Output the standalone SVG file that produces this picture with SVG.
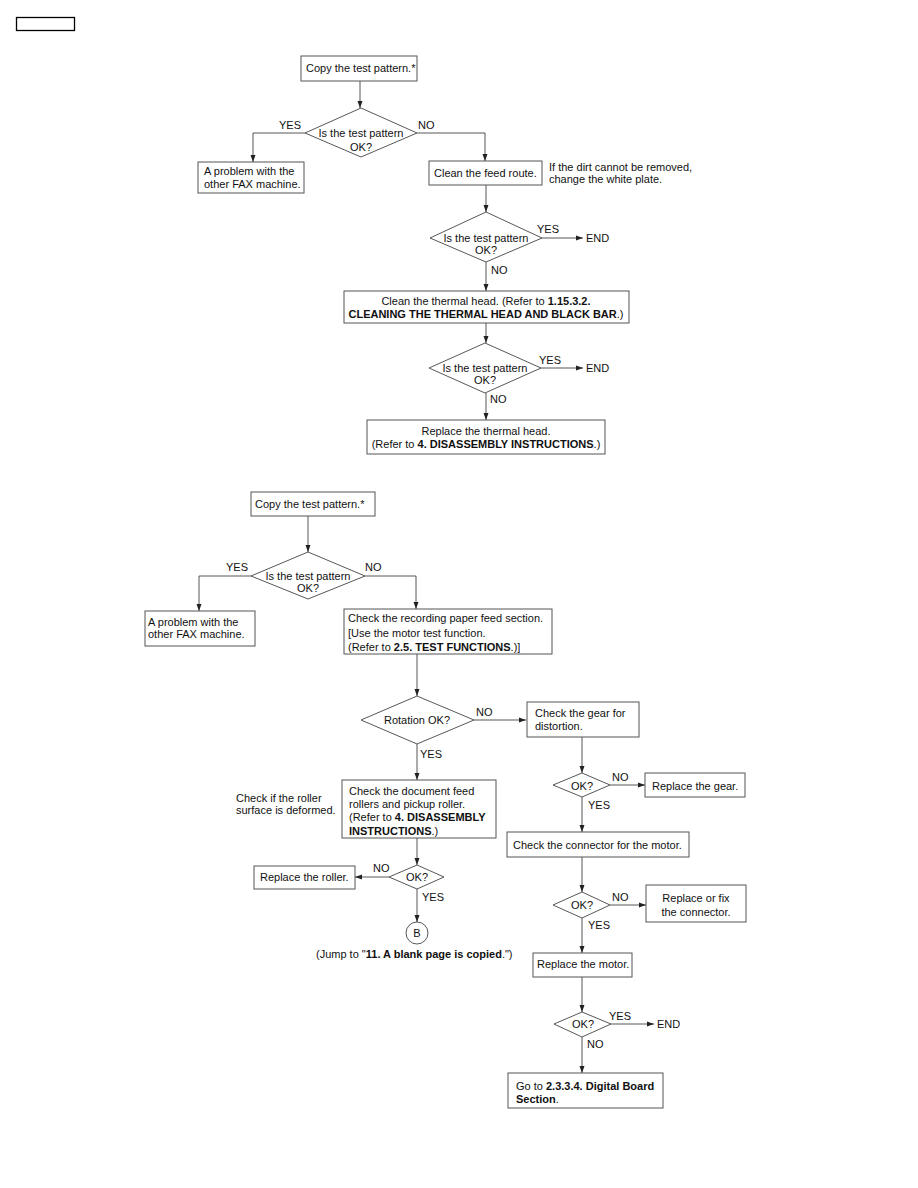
<svg xmlns="http://www.w3.org/2000/svg" width="918" height="1188" viewBox="0 0 918 1188">
<style>
text{font-family:"Liberation Sans",Arial,sans-serif;font-size:11px;fill:#111}
.b{font-weight:bold}
.m{text-anchor:middle}
.box{fill:#fff;stroke:#555;stroke-width:1}
.dia{fill:#fff;stroke:#444;stroke-width:0.9}
.c{fill:none;stroke:#444;stroke-width:0.9}
</style>
<defs>
<marker id="ah" markerUnits="userSpaceOnUse" markerWidth="8" markerHeight="6" refX="7" refY="3" orient="auto">
<path d="M0,0.5 L7,3 L0,5.5 Z" fill="#222"/>
</marker>
</defs>
<rect x="0" y="0" width="918" height="1188" fill="#fff"/>
<rect id="pagetag" x="16.5" y="17.5" width="58" height="13" fill="none" stroke="#000" stroke-width="1.3"/>

<g id="connectors">
<!-- flow 1 -->
<path class="c" d="M360,81 V108" marker-end="url(#ah)"/>
<path class="c" d="M305,133 H253 V162" marker-end="url(#ah)"/>
<path class="c" d="M417,133 H485 V161" marker-end="url(#ah)"/>
<path class="c" d="M486,185 V212" marker-end="url(#ah)"/>
<path class="c" d="M542,238 H583" marker-end="url(#ah)"/>
<path class="c" d="M486,262 V291" marker-end="url(#ah)"/>
<path class="c" d="M486,323 V343" marker-end="url(#ah)"/>
<path class="c" d="M541,368 H583" marker-end="url(#ah)"/>
<path class="c" d="M486,393 V420" marker-end="url(#ah)"/>
<!-- flow 2 -->
<path class="c" d="M308,516 V552" marker-end="url(#ah)"/>
<path class="c" d="M251,576 H199 V611" marker-end="url(#ah)"/>
<path class="c" d="M365,576 H416 V609" marker-end="url(#ah)"/>
<path class="c" d="M417,654 V696" marker-end="url(#ah)"/>
<path class="c" d="M474,720 H526" marker-end="url(#ah)"/>
<path class="c" d="M417,744 V780" marker-end="url(#ah)"/>
<path class="c" d="M417,838 V865" marker-end="url(#ah)"/>
<path class="c" d="M389,877 H355" marker-end="url(#ah)"/>
<path class="c" d="M417,889 V922" marker-end="url(#ah)"/>
<path class="c" d="M582,737 V773" marker-end="url(#ah)"/>
<path class="c" d="M610,785 H645" marker-end="url(#ah)"/>
<path class="c" d="M582,797 V832" marker-end="url(#ah)"/>
<path class="c" d="M582,857 V892" marker-end="url(#ah)"/>
<path class="c" d="M610,905 H646" marker-end="url(#ah)"/>
<path class="c" d="M582,918 V953" marker-end="url(#ah)"/>
<path class="c" d="M582,977 V1012" marker-end="url(#ah)"/>
<path class="c" d="M611,1024 H654" marker-end="url(#ah)"/>
<path class="c" d="M582,1037 V1073" marker-end="url(#ah)"/>
</g>

<g id="labels">
<text x="279" y="129">YES</text>
<text x="418" y="129">NO</text>
<text x="537" y="233">YES</text>
<text x="586" y="242">END</text>
<text x="491" y="274">NO</text>
<text x="539" y="364">YES</text>
<text x="586" y="372">END</text>
<text x="490" y="403">NO</text>
<text x="226" y="571">YES</text>
<text x="365" y="571">NO</text>
<text x="476" y="716">NO</text>
<text x="420" y="758">YES</text>
<text x="373" y="872">NO</text>
<text x="422" y="901">YES</text>
<text x="612" y="781">NO</text>
<text x="588" y="809">YES</text>
<text x="612" y="901">NO</text>
<text x="588" y="929">YES</text>
<text x="609" y="1020">YES</text>
<text x="657" y="1028">END</text>
<text x="587" y="1048">NO</text>
<text x="549" y="171">If the dirt cannot be removed,</text>
<text x="549" y="183">change the white plate.</text>
<text x="236" y="802">Check if the roller</text>
<text x="236" y="814">surface is deformed.</text>
<text x="316" y="958">(Jump to "<tspan class="b">11. A blank page is copied</tspan>.")</text>
</g>

<!-- flow 1 nodes -->
<g id="n1_copy">
<rect class="box" x="301" y="56" width="116" height="25"/>
<text x="306" y="72">Copy the test pattern.*</text>
</g>
<g id="n1_q1">
<polygon class="dia" points="361,108 417,133 361,157 305,133"/>
<text class="m" x="361" y="137">Is the test pattern</text>
<text class="m" x="361" y="151">OK?</text>
</g>
<g id="n1_other">
<rect class="box" x="198" y="162" width="106" height="31"/>
<text x="204" y="175">A problem with the</text>
<text x="204" y="188">other FAX machine.</text>
</g>
<g id="n1_clean">
<rect class="box" x="429" y="161" width="113" height="24"/>
<text x="434" y="177">Clean the feed route.</text>
</g>
<g id="n1_q2">
<polygon class="dia" points="486,212 542,238 486,262 430,238"/>
<text class="m" x="486" y="242">Is the test pattern</text>
<text class="m" x="486" y="254">OK?</text>
</g>
<g id="n1_thermal">
<rect class="box" x="344" y="291" width="285" height="32"/>
<text class="m" x="486" y="305">Clean the thermal head. (Refer to <tspan class="b">1.15.3.2.</tspan></text>
<text class="m" x="486" y="318"><tspan class="b">CLEANING THE THERMAL HEAD AND BLACK BAR</tspan>.)</text>
</g>
<g id="n1_q3">
<polygon class="dia" points="485,343 541,368 485,393 429,368"/>
<text class="m" x="485" y="372">Is the test pattern</text>
<text class="m" x="485" y="384">OK?</text>
</g>
<g id="n1_replace">
<rect class="box" x="367" y="420" width="238" height="34"/>
<text class="m" x="486" y="435">Replace the thermal head.</text>
<text class="m" x="486" y="448">(Refer to <tspan class="b">4. DISASSEMBLY INSTRUCTIONS</tspan>.)</text>
</g>

<!-- flow 2 nodes -->
<g id="n2_copy">
<rect class="box" x="251" y="492" width="124" height="24"/>
<text x="255" y="508">Copy the test pattern.*</text>
</g>
<g id="n2_q1">
<polygon class="dia" points="308,552 365,576 308,599 251,576"/>
<text class="m" x="308" y="580">Is the test pattern</text>
<text class="m" x="308" y="592">OK?</text>
</g>
<g id="n2_other">
<rect class="box" x="145" y="611" width="110" height="35"/>
<text x="148" y="626">A problem with the</text>
<text x="148" y="638">other FAX machine.</text>
</g>
<g id="n2_check">
<rect class="box" x="344" y="609" width="208" height="45"/>
<text x="348" y="622">Check the recording paper feed section.</text>
<text x="348" y="637">[Use the motor test function.</text>
<text x="348" y="651">(Refer to <tspan class="b">2.5. TEST FUNCTIONS</tspan>.)]</text>
</g>
<g id="n2_rot">
<polygon class="dia" points="417,696 474,720 417,744 361,720"/>
<text class="m" x="417" y="724">Rotation OK?</text>
</g>
<g id="n2_gear">
<rect class="box" x="527" y="702" width="112" height="35"/>
<text x="535" y="717">Check the gear for</text>
<text x="535" y="730">distortion.</text>
</g>
<g id="n2_doc">
<rect class="box" x="342" y="780" width="154" height="58"/>
<text x="349" y="795">Check the document feed</text>
<text x="349" y="808">rollers and pickup roller.</text>
<text x="349" y="821">(Refer to <tspan class="b">4. DISASSEMBLY</tspan></text>
<text x="349" y="835"><tspan class="b">INSTRUCTIONS</tspan>.)</text>
</g>
<g id="n2_okroll">
<polygon class="dia" points="417,865 444,877 417,889 389,877"/>
<text class="m" x="417" y="881">OK?</text>
</g>
<g id="n2_roller">
<rect class="box" x="254" y="866" width="101" height="23"/>
<text x="260" y="881">Replace the roller.</text>
</g>
<g id="n2_B">
<circle cx="417" cy="933" r="11" fill="#fff" stroke="#444" stroke-width="0.9"/>
<text class="m" x="417" y="937">B</text>
</g>
<g id="n2_okgear">
<polygon class="dia" points="582,773 610,785 582,797 553,785"/>
<text class="m" x="582" y="790">OK?</text>
</g>
<g id="n2_repgear">
<rect class="box" x="645" y="773" width="100" height="24"/>
<text x="652" y="790">Replace the gear.</text>
</g>
<g id="n2_conn">
<rect class="box" x="507" y="832" width="182" height="25"/>
<text x="513" y="849">Check the connector for the motor.</text>
</g>
<g id="n2_okconn">
<polygon class="dia" points="582,892 610,905 582,918 553,905"/>
<text class="m" x="582" y="909">OK?</text>
</g>
<g id="n2_fixconn">
<rect class="box" x="646" y="885" width="100" height="37"/>
<text class="m" x="696" y="902">Replace or fix</text>
<text class="m" x="696" y="916">the connector.</text>
</g>
<g id="n2_motor">
<rect class="box" x="533" y="953" width="99" height="24"/>
<text x="537" y="968">Replace the motor.</text>
</g>
<g id="n2_okmotor">
<polygon class="dia" points="582,1012 611,1024 582,1037 554,1024"/>
<text class="m" x="583" y="1028">OK?</text>
</g>
<g id="n2_digital">
<rect class="box" x="508" y="1073" width="155" height="35"/>
<text x="516" y="1090">Go to <tspan class="b">2.3.3.4. Digital Board</tspan></text>
<text x="516" y="1103"><tspan class="b">Section</tspan>.</text>
</g>
</svg>
